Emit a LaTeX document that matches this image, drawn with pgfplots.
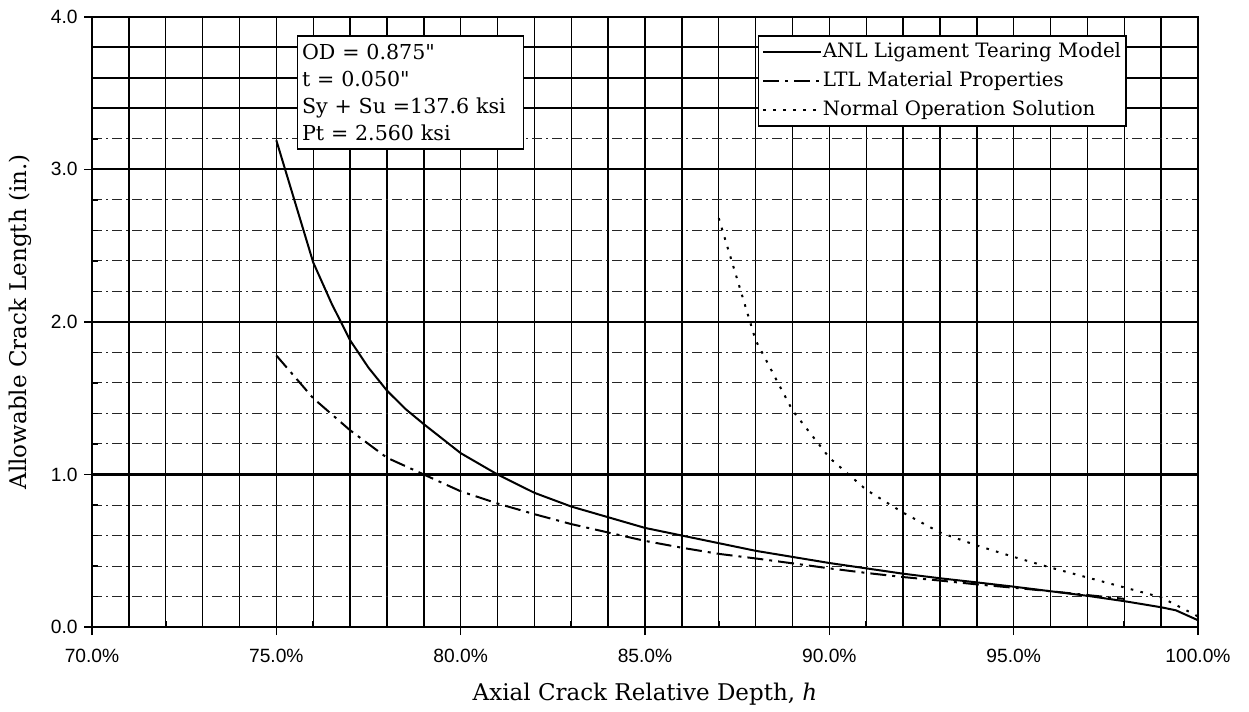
\documentclass[border=0pt]{standalone}
\usepackage{fontspec}
\setmainfont{DejaVu Serif}[Ligatures=TeXOff]
\newfontfamily\tickfont{Liberation Sans}
\usepackage{pgfplots}
\pgfplotsset{compat=1.18}
\begin{document}
\begin{tikzpicture}
\begin{axis}[
  name=ax,
  scale only axis,
  width=553pt, height=305.2pt,
  xmin=70, xmax=100, ymin=0, ymax=4,
  xtick={70,75,80,85,90,95,100},
  xticklabels={70.0\%,75.0\%,80.0\%,85.0\%,90.0\%,95.0\%,100.0\%},
  ytick={0,1,2,3,4},
  yticklabels={0.0,1.0,2.0,3.0,4.0},
  minor x tick num=4,
  minor y tick num=4,
  tick pos=left,
  tick align=outside,
  major tick length=4pt,
  minor tick length=3pt,
  minor y tick style={xshift=3pt},
  minor x tick style={yshift=3pt},
  tick style={black, line width=0.8pt},
  grid=both,
  major x grid style={black, line width=0.75pt},
  minor x grid style={black, line width=0.7pt},
  major y grid style={black, line width=1.1pt},
  minor y grid style={black!85, line width=0.5pt, dash pattern=on 5pt off 2pt on 1pt off 2pt},
  extra y ticks={3.4,3.6,3.8},
  extra y tick labels={},
  extra y tick style={grid=major, major grid style={black, line width=0.6pt, solid}, major tick length=0pt},
  axis line style={black, line width=1pt},
  ticklabel style={font=\tickfont\fontsize{9.6}{11}\selectfont},
  xticklabel style={anchor=north, inner sep=0pt, yshift=-7pt},
  yticklabel style={anchor=east, inner sep=0pt, xshift=-3pt},
  xlabel={Axial Crack Relative Depth, \textit{h}},
  ylabel={Allowable Crack Length (in.)},
  label style={font=\fontsize{11.5}{13}\selectfont},
  xlabel style={at={(axis description cs:0.5,0)}, anchor=base, yshift=-36.5pt},
  ylabel style={at={(axis description cs:-0.0651,0.5)}, anchor=center},
  legend style={at={(axis cs:98.07,3.88)}, anchor=north east, draw=black, line width=0.8pt, fill=white,
    font=\fontsize{9.9}{11}\selectfont, inner xsep=2pt, inner ysep=1pt,
    nodes={inner ysep=2.2pt, inner xsep=0.5pt, text height=7.6pt, text depth=2.4pt},
    column sep=0pt},
  legend cell align=left,
  legend image code/.code={\draw[#1, line width=0.8pt] (0pt,0pt) -- (29pt,0pt);},
]
\addplot[black, line width=1pt] coordinates {
(75,3.19) (75.5,2.79) (76,2.39) (76.5,2.12) (77,1.88) (77.5,1.70) (78,1.55) (78.5,1.43) (79,1.33) (80,1.14)
(81,1.00) (82,0.88) (83,0.79) (84,0.72) (85,0.65) (86,0.60) (87,0.55) (88,0.50)
(89,0.46) (90,0.42) (91,0.385) (92,0.35) (93,0.32) (94,0.293) (95,0.265) (96,0.235)
(97,0.205) (98,0.17) (99,0.13) (99.4,0.11) (100,0.045)};
\addlegendentry{ANL Ligament Tearing Model}
\addplot[black, line width=1pt, dash pattern=on 8pt off 3pt on 1.5pt off 3pt] coordinates {
(75,1.78) (76,1.50) (77,1.29) (78,1.11) (79,1.00) (80,0.89) (81,0.81) (82,0.74)
(83,0.675) (84,0.62) (85,0.565) (86,0.52) (87,0.48) (88,0.45) (89,0.418) (90,0.385)
(91,0.355) (92,0.328) (93,0.305) (94,0.28) (95,0.258) (96,0.235) (97,0.21) (98,0.185)};
\addlegendentry{LTL Material Properties}
\addplot[black, line width=1pt, dash pattern=on 1.3pt off 3.7pt] coordinates {
(87,2.68) (88,1.88) (89,1.42) (90,1.11) (91,0.90) (92,0.75) (93,0.62) (94,0.535)
(95,0.46) (96,0.39) (97,0.325) (98,0.26) (99,0.195) (100,0.07)};
\addlegendentry{Normal Operation Solution}
\node[draw=black, line width=0.8pt, fill=white, anchor=north west, align=left,
  font=\fontsize{10.3}{13.6}\selectfont, inner xsep=2.3pt, inner ysep=4pt, text width=108.4pt]
  at (axis cs:75.55,3.88)
  {OD = 0.875"\\t = 0.050"\\Sy + Su =137.6 ksi\\Pt = 2.560 ksi};
\end{axis}
\pgfresetboundingbox
\path ([shift={(-46pt,-42pt)}]ax.south west) rectangle ([shift={(25.5pt,8.35pt)}]ax.north east);
\end{tikzpicture}
\end{document}
